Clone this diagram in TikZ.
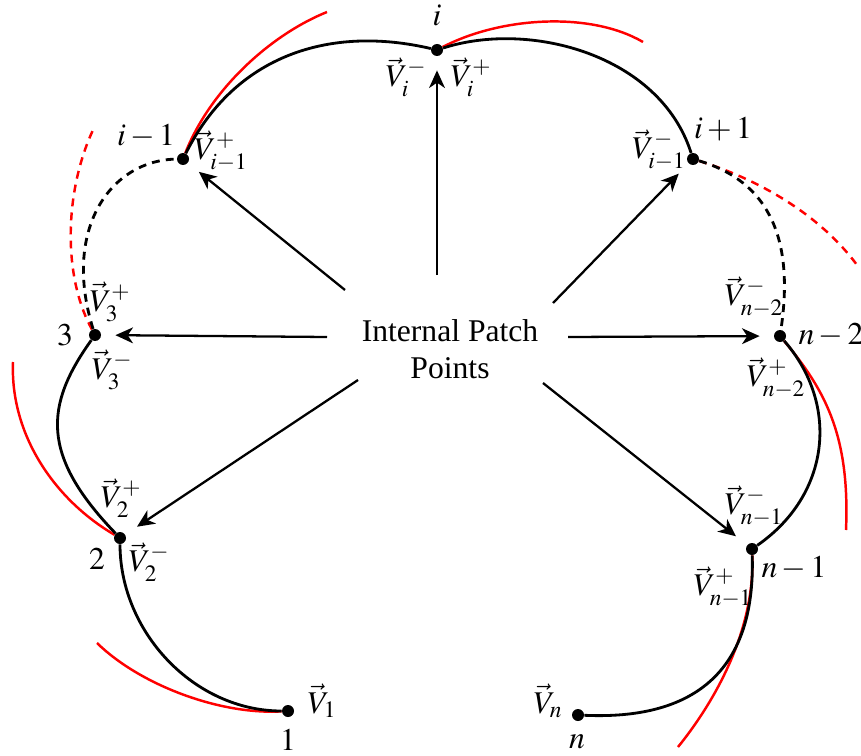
\documentclass[tikz,border=0pt]{standalone}
\usepackage{mathptmx}
\usepackage[no-math]{fontspec}
\setmainfont{Liberation Serif}
\usetikzlibrary{arrows.meta}

\begin{document}
\begin{tikzpicture}[x=0.02cm, y=0.02cm,
    font=\fontsize{18}{21}\selectfont,
    dot/.style={circle, fill=black, inner sep=0pt, minimum size=0.24cm},
    lbl/.style={inner sep=0pt},
    arc/.style={line width=1.6pt},
    redarc/.style={line width=1.4pt, red},
    gapped/.style={dash pattern=on 4.5pt off 3.5pt},
    arr/.style={line width=1.3pt, -{Stealth[length=10pt, width=9pt, inset=3pt]}, shorten >=8pt}]
    \useasboundingbox (0,0) rectangle (861,755);

    % Patch points
    \node[dot] (p1)   at (288,44)  {};
    \node[dot] (p2)   at (120,217) {};
    \node[dot] (p3)   at (95,420)  {};
    \node[dot] (pim1) at (183,596) {};
    \node[dot] (pi)   at (437,705) {};
    \node[dot] (pip1) at (693,596) {};
    \node[dot] (pnm2) at (780,419) {};
    \node[dot] (pnm1) at (752,206) {};
    \node[dot] (pn)   at (578,40)  {};

    % Red tangent arcs
    \coordinate (r1) at (97,112);
    \coordinate (r2) at (13,393);
    \coordinate (r3) at (93,625);
    \coordinate (r4) at (327,743);
    \coordinate (r5) at (643,713);
    \coordinate (r6) at (857,490);
    \coordinate (r7) at (846,225);
    \coordinate (r8) at (678,8);
    \draw[redarc] (p1) .. controls (220,40) and (140,70) .. (r1);
    \draw[redarc] (p2) .. controls (55,255) and (10,320) .. (r2);
    \draw[redarc, gapped] (p3) .. controls (62,480) and (65,565) .. (r3);
    \draw[redarc] (pim1) .. controls (210,665) and (270,720) .. (r4);
    \draw[redarc] (pi) .. controls (500,738) and (590,744) .. (r5);
    \draw[redarc, gapped] (pip1) .. controls (760,575) and (820,540) .. (r6);
    \draw[redarc] (pnm2) .. controls (825,365) and (850,320) .. (r7);
    \draw[redarc] (pnm1) .. controls (755,130) and (720,60) .. (r8);

    % Boundary curves
    \draw[arc] (p1) .. controls (194,44) and (120,123) .. (p2);
    \draw[arc] (p2) .. controls (40,300) and (45,350) .. (p3);
    \draw[arc, gapped] (p3) .. controls (62,525) and (110,595) .. (pim1);
    \draw[arc] (pim1) .. controls (235,700) and (330,730) .. (pi);
    \draw[arc] (pi) .. controls (530,735) and (660,700) .. (pip1);
    \draw[arc, gapped] (pip1) .. controls (780,570) and (792,500) .. (pnm2);
    \draw[arc] (pnm2) .. controls (840,350) and (830,260) .. (pnm1);
    \draw[arc] (pnm1) .. controls (756,80) and (690,35) .. (pn);

    % Centre text and arrows
    \node[align=center] (ipp) at (450,406) {Internal Patch\\Points};
    \coordinate (a1) at (437,480);
    \coordinate (a2) at (345,465);
    \coordinate (a3) at (553,452);
    \coordinate (a4) at (327,418);
    \coordinate (a5) at (568,418);
    \coordinate (a6) at (358,375);
    \coordinate (a7) at (543,372);
    \foreach \t/\h in {a1/pi, a2/pim1, a3/pip1, a4/p3, a5/pnm2, a6/p2, a7/pnm1}
        \draw[arr] (\t) -- (\h);

    % Point numbers
    \node[lbl] (li)   at (437,740) {$i$};
    \node[lbl] (lim1) at (146,619) {$i-1$};
    \node[lbl] (lip1) at (723,626) {$i+1$};
    \node[lbl] (l3)   at (65,420)  {$3$};
    \node[lbl] (lnm2) at (831,420) {$n-2$};
    \node[lbl] (l2)   at (97,196)  {$2$};
    \node[lbl] (lnm1) at (794,187) {$n-1$};
    \node[lbl] (l1)   at (288,15)  {$1$};
    \node[lbl] (ln)   at (577,13)  {$n$};

    % Tangent vectors
    \node[lbl] (vim)   at (406,678) {$\vec V_i^-$};
    \node[lbl] (vip)   at (471,678) {$\vec V_i^+$};
    \node[lbl] (vim1p) at (221,604) {$\vec V_{i-1}^+$};
    \node[lbl] (vip1m) at (659,605) {$\vec V_{i-1}^-$};
    \node[lbl] (v3p)   at (110,453) {$\vec V_3^+$};
    \node[lbl] (v3m)   at (112,385) {$\vec V_3^-$};
    \node[lbl] (vnm2m) at (754,458) {$\vec V_{n-2}^-$};
    \node[lbl] (vnm2p) at (776,377) {$\vec V_{n-2}^+$};
    \node[lbl] (v2p)   at (121,257) {$\vec V_2^+$};
    \node[lbl] (v2m)   at (149,193) {$\vec V_2^-$};
    \node[lbl] (vnm1m) at (754,249) {$\vec V_{n-1}^-$};
    \node[lbl] (vnm1p) at (723,168) {$\vec V_{n-1}^+$};
    \node[lbl] (v1)    at (322,54)  {$\vec V_1$};
    \node[lbl] (vn)    at (548,54)  {$\vec V_n$};
\end{tikzpicture}
\end{document}
